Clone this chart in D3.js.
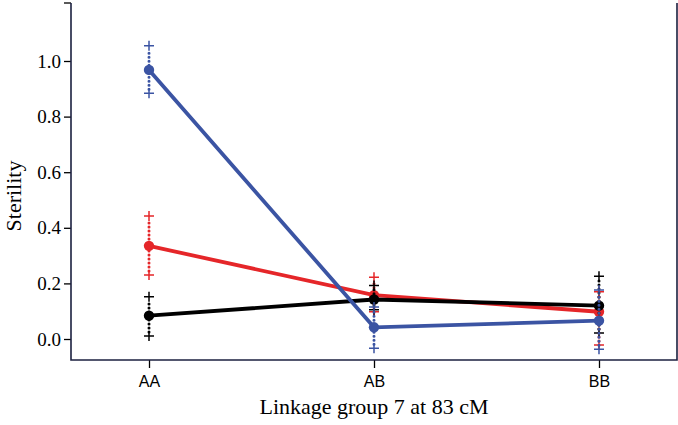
<!DOCTYPE html>
<html><head><meta charset="utf-8">
<script src="https://cdn.jsdelivr.net/npm/d3@7"></script>
<style>body{margin:0;background:#fff}
.yt text{font-family:"Liberation Serif",serif !important;font-size:19px !important;}
.xt text{font-family:"Liberation Sans",Arial,sans-serif !important;font-size:16px !important;}
.ttl{font-family:"Liberation Serif",serif;font-size:22px;}
</style>
</head><body>
<svg id="c" width="678" height="425"></svg>
<script>
const categories = ["AA", "AB", "BB"];
const yTicks = [0.0, 0.2, 0.4, 0.6, 0.8, 1.0];
const seriesNames = ["red", "black", "blue"];
const redMean = [0.335, 0.158, 0.098];
const redLow = [0.230, 0.098, -0.022];
const redHigh = [0.442, 0.222, 0.170];
const blackMean = [0.084, 0.142, 0.120];
const blackLow = [0.011, 0.105, 0.022];
const blackHigh = [0.152, 0.192, 0.226];
const blueMean = [0.968, 0.042, 0.066];
const blueLow = [0.884, -0.033, -0.037];
const blueHigh = [1.055, 0.115, 0.176];

const colors = {red: "#e52629", black: "#000000", blue: "#3b54a3"};
const series = [
  {name: "red", mean: redMean, low: redLow, high: redHigh},
  {name: "black", mean: blackMean, low: blackLow, high: blackHigh},
  {name: "blue", mean: blueMean, low: blueLow, high: blueHigh}
];

const svg = d3.select("#c");
const mLeft = 71, mRight = 677, mTop = 3, mBottom = 360;
const x = d3.scalePoint().domain(categories).range([mLeft, mRight]).padding(0.3467);
const y = d3.scaleLinear().domain([0, 1]).range([339, 61]);

const yAxis = svg.append("g").attr("class", "yt").attr("transform", `translate(${mLeft},0)`)
  .call(d3.axisLeft(y).tickValues(yTicks).tickFormat(d3.format(".1f")).tickSize(7).tickSizeOuter(0));
yAxis.select(".domain").remove();
yAxis.selectAll("text").attr("fill", "#000").attr("x", -10);
yAxis.selectAll("line").attr("stroke", "#000").attr("stroke-width", 1.3);
svg.append("line").attr("x1", mLeft - 7).attr("x2", mLeft).attr("y1", mTop).attr("y2", mTop).attr("stroke", "#000").attr("stroke-width", 1.3);

const xAxis = svg.append("g").attr("class", "xt").attr("transform", `translate(0,${mBottom})`)
  .call(d3.axisBottom(x).tickSize(8).tickSizeOuter(0));
xAxis.select(".domain").remove();
xAxis.selectAll("text").attr("fill", "#000").attr("dy", "1.0em");
xAxis.selectAll("line").attr("stroke", "#000").attr("stroke-width", 1.3);

svg.append("path").attr("d", `M${mLeft},${mTop}V${mBottom}H${mRight}V${mTop}`).attr("fill", "none").attr("stroke", "#1c2140").attr("stroke-width", 1.6);

svg.append("text").attr("class", "ttl").attr("x", (mLeft + mRight) / 2).attr("y", 414).attr("text-anchor", "middle")
  .text("Linkage group 7 at 83 cM");
svg.append("text").attr("class", "ttl").attr("transform", "translate(21,196) rotate(-90)").attr("text-anchor", "middle")
  .text("Sterility");

const line = d3.line().x((d, i) => x(categories[i])).y(d => y(d));

series.forEach(s => {
  const g = svg.append("g");
  const c = colors[s.name];
  categories.forEach((cat, i) => {
    g.append("line").attr("x1", x(cat)).attr("x2", x(cat))
      .attr("y1", y(s.low[i]) - 4).attr("y2", y(s.high[i]) + 4)
      .attr("stroke", c).attr("stroke-width", 3).attr("stroke-linecap", "round")
      .attr("stroke-dasharray", "0,4");
    [s.low[i], s.high[i]].forEach(v => {
      g.append("path").attr("d", `M${x(cat) - 5},${y(v)}H${x(cat) + 5}M${x(cat)},${y(v) - 5}V${y(v) + 5}`)
        .attr("stroke", c).attr("stroke-width", 1.5).attr("fill", "none");
    });
  });
  g.append("path").attr("d", line(s.mean)).attr("fill", "none").attr("stroke", c).attr("stroke-width", 3.8);
  g.selectAll("circle").data(s.mean).join("circle")
    .attr("cx", (d, i) => x(categories[i])).attr("cy", d => y(d)).attr("r", 5.2).attr("fill", c);
});
</script>
</body></html>
